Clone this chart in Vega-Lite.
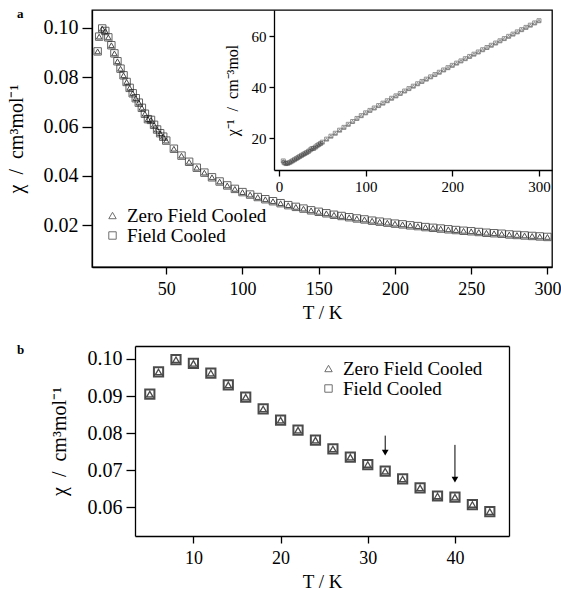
{
  "$schema": "https://vega.github.io/schema/vega-lite/v6.json",
  "padding": {"left": 6, "top": 8, "right": 3, "bottom": 3},
  "datasets": {
    "chi": [
      {"T": 5, "chi": 0.0905, "inv": 11.05},
      {"T": 6, "chi": 0.0965, "inv": 10.36},
      {"T": 8, "chi": 0.0998, "inv": 10.02},
      {"T": 10, "chi": 0.0988, "inv": 10.12},
      {"T": 12, "chi": 0.0962, "inv": 10.4},
      {"T": 14, "chi": 0.093, "inv": 10.75},
      {"T": 16, "chi": 0.0897, "inv": 11.15},
      {"T": 18, "chi": 0.0865, "inv": 11.56},
      {"T": 20, "chi": 0.0835, "inv": 11.98},
      {"T": 22, "chi": 0.0808, "inv": 12.38},
      {"T": 24, "chi": 0.0781, "inv": 12.8},
      {"T": 26, "chi": 0.0757, "inv": 13.21},
      {"T": 28, "chi": 0.0735, "inv": 13.61},
      {"T": 30, "chi": 0.0715, "inv": 13.99},
      {"T": 32, "chi": 0.0697, "inv": 14.35},
      {"T": 34, "chi": 0.0676, "inv": 14.79},
      {"T": 36, "chi": 0.0652, "inv": 15.34},
      {"T": 38, "chi": 0.063, "inv": 15.87},
      {"T": 40, "chi": 0.0627, "inv": 15.95},
      {"T": 42, "chi": 0.0607, "inv": 16.47},
      {"T": 44, "chi": 0.0588, "inv": 17.01},
      {"T": 46, "chi": 0.0573, "inv": 17.45},
      {"T": 48, "chi": 0.0559, "inv": 17.9},
      {"T": 50, "chi": 0.0543, "inv": 18.4},
      {"T": 55, "chi": 0.051, "inv": 19.6},
      {"T": 60, "chi": 0.0482, "inv": 20.75},
      {"T": 65, "chi": 0.0457, "inv": 21.9},
      {"T": 70, "chi": 0.0433, "inv": 23.1},
      {"T": 75, "chi": 0.0413, "inv": 24.2},
      {"T": 80, "chi": 0.0394, "inv": 25.4},
      {"T": 85, "chi": 0.0377, "inv": 26.5},
      {"T": 90, "chi": 0.0361, "inv": 27.7},
      {"T": 95, "chi": 0.0347, "inv": 28.8},
      {"T": 100, "chi": 0.0334, "inv": 29.9},
      {"T": 105, "chi": 0.0324, "inv": 30.85},
      {"T": 110, "chi": 0.0314, "inv": 31.8},
      {"T": 115, "chi": 0.0305, "inv": 32.75},
      {"T": 120, "chi": 0.0297, "inv": 33.7},
      {"T": 125, "chi": 0.0289, "inv": 34.65},
      {"T": 130, "chi": 0.0281, "inv": 35.6},
      {"T": 135, "chi": 0.0274, "inv": 36.55},
      {"T": 140, "chi": 0.0267, "inv": 37.5},
      {"T": 145, "chi": 0.026, "inv": 38.45},
      {"T": 150, "chi": 0.0254, "inv": 39.4},
      {"T": 155, "chi": 0.0248, "inv": 40.35},
      {"T": 160, "chi": 0.0242, "inv": 41.3},
      {"T": 165, "chi": 0.0237, "inv": 42.2},
      {"T": 170, "chi": 0.0232, "inv": 43.1},
      {"T": 175, "chi": 0.0227, "inv": 44.0},
      {"T": 180, "chi": 0.0223, "inv": 44.9},
      {"T": 185, "chi": 0.0218, "inv": 45.8},
      {"T": 190, "chi": 0.0214, "inv": 46.7},
      {"T": 195, "chi": 0.021, "inv": 47.6},
      {"T": 200, "chi": 0.0206, "inv": 48.5},
      {"T": 205, "chi": 0.0203, "inv": 49.38},
      {"T": 210, "chi": 0.0199, "inv": 50.25},
      {"T": 215, "chi": 0.0196, "inv": 51.13},
      {"T": 220, "chi": 0.0192, "inv": 52.0},
      {"T": 225, "chi": 0.0189, "inv": 52.88},
      {"T": 230, "chi": 0.0186, "inv": 53.75},
      {"T": 235, "chi": 0.0183, "inv": 54.63},
      {"T": 240, "chi": 0.018, "inv": 55.5},
      {"T": 245, "chi": 0.0177, "inv": 56.38},
      {"T": 250, "chi": 0.0175, "inv": 57.25},
      {"T": 255, "chi": 0.0172, "inv": 58.13},
      {"T": 260, "chi": 0.0169, "inv": 59.0},
      {"T": 265, "chi": 0.0167, "inv": 59.88},
      {"T": 270, "chi": 0.0165, "inv": 60.75},
      {"T": 275, "chi": 0.0162, "inv": 61.63},
      {"T": 280, "chi": 0.016, "inv": 62.5},
      {"T": 285, "chi": 0.0158, "inv": 63.38},
      {"T": 290, "chi": 0.0156, "inv": 64.25},
      {"T": 295, "chi": 0.0154, "inv": 65.13},
      {"T": 300, "chi": 0.0152, "inv": 66.0}
    ],
    "arrows": [
      {"T": 32, "top": 0.0793, "tip": 0.0747},
      {"T": 40, "top": 0.0768, "tip": 0.0674}
    ]
  },
  "title": {"text": "a", "anchor": "start", "frame": "group", "dx": -75, "dy": 11, "offset": 0, "fontSize": 13, "fontWeight": "bold", "font": "Liberation Serif", "color": "black"},
  "width": 460,
  "height": 257,
  "resolve": {
    "scale": {"x": "independent", "y": "independent", "shape": "independent"},
    "axis": {"x": "independent", "y": "independent"},
    "legend": {"shape": "independent"}
  },
  "layer": [
    {
      "data": {"name": "chi"},
      "encoding": {
        "x": {"field": "T", "type": "quantitative", "scale": {"domain": [1.3, 303], "nice": false, "zero": false},
              "axis": {"orient": "bottom", "values": [50, 100, 150, 200, 250, 300], "title": "T / K", "tickSize": 7, "labelPadding": 6, "titlePadding": 5}},
        "y": {"field": "chi", "type": "quantitative", "scale": {"domain": [0.003, 0.1073], "nice": false, "zero": false},
              "axis": {"orient": "left", "values": [0.02, 0.04, 0.06, 0.08, 0.1], "format": ".2f", "title": "χ\u2002/\u2002cm³mol⁻¹", "labelFontSize": 20, "titleFontSize": 20, "tickSize": 10, "labelPadding": 4, "titlePadding": 17}}
      },
      "layer": [
        {
          "mark": {"type": "point", "filled": false, "stroke": "#222222", "strokeWidth": 1, "size": 55},
          "encoding": {"shape": {"datum": "Field Cooled", "scale": {"domain": ["Zero Field Cooled", "Field Cooled"], "range": ["triangle-up", "square"]},
            "legend": {"orient": "none", "legendX": 11, "legendY": 196, "title": null}}}
        },
        {
          "mark": {"type": "point", "filled": false, "stroke": "#000000", "strokeWidth": 1, "size": 30},
          "encoding": {"shape": {"datum": "Zero Field Cooled"}}
        }
      ]
    },
    {
      "data": {"name": "chi"},
      "encoding": {
        "x": {"field": "T", "type": "quantitative", "scale": {"domain": [-5.7, 315], "range": [182, 460], "nice": false, "zero": false},
              "axis": {"orient": "bottom", "offset": -97, "values": [0, 100, 200, 300], "title": null, "labelFontSize": 15, "tickSize": 6, "labelPadding": 3}},
        "y": {"field": "inv", "type": "quantitative", "scale": {"domain": [7.5, 70.2], "range": [160, 0], "nice": false, "zero": false},
              "axis": {"orient": "left", "offset": -182, "values": [20, 40, 60], "title": "χ⁻¹\u2002/\u2002cm⁻³mol", "labelFontSize": 15, "titleFontSize": 16, "tickSize": 5, "labelPadding": 3, "titlePadding": 11}}
      },
      "layer": [
        {
          "mark": {"type": "point", "filled": false, "stroke": "#444444", "strokeWidth": 0.8, "size": 16},
          "encoding": {"shape": {"datum": "Field Cooled", "scale": {"domain": ["Zero Field Cooled", "Field Cooled"], "range": ["triangle-up", "square"]}, "legend": null}}
        },
        {
          "mark": {"type": "point", "filled": false, "stroke": "#444444", "strokeWidth": 0.8, "size": 9},
          "encoding": {"shape": {"datum": "Zero Field Cooled"}}
        }
      ]
    },
    {
      "data": {"name": "arrows"},
      "mark": {"type": "point", "opacity": 0},
      "encoding": {
        "x": {"field": "T", "type": "quantitative", "scale": {"domain": [3.3, 46.2], "range": [43, 417], "nice": false, "zero": false},
              "axis": {"orient": "top", "offset": -336, "labels": false, "ticks": false, "title": "b", "titleAngle": 0, "titleAlign": "center", "titleBaseline": "middle",
                       "titleX": -72, "titleY": 3, "titleFontSize": 13, "titleFontWeight": "bold"}},
        "y": {"field": "tip", "type": "quantitative", "scale": {"domain": [0.0522, 0.1035], "range": [526, 336], "nice": false, "zero": false},
              "axis": {"orient": "right", "offset": -43, "labels": false, "ticks": false, "title": null}}
      }
    },
    {
      "layer": [
        {
          "data": {"name": "chi"},
          "transform": [{"filter": "datum.T <= 44"}],
          "encoding": {
            "x": {"field": "T", "type": "quantitative", "scale": {"domain": [3.3, 46.2], "range": [43, 417], "nice": false, "zero": false},
                  "axis": {"orient": "bottom", "offset": 269, "values": [10, 20, 30, 40], "title": "T / K", "tickSize": 7, "labelPadding": 6, "titlePadding": 5}},
            "y": {"field": "chi", "type": "quantitative", "scale": {"domain": [0.0522, 0.1035], "range": [526, 336], "nice": false, "zero": false},
                  "axis": {"orient": "left", "offset": -43, "values": [0.06, 0.07, 0.08, 0.09, 0.1], "format": ".2f", "title": "χ\u2002/\u2002cm³mol⁻¹", "labelFontSize": 20, "titleFontSize": 20, "tickSize": 9, "labelPadding": 4, "titlePadding": 18}}
          },
          "layer": [
            {
              "mark": {"type": "point", "filled": false, "stroke": "#000000", "strokeWidth": 2, "size": 85},
              "encoding": {"shape": {"datum": "Field Cooled", "scale": {"domain": ["Zero Field Cooled", "Field Cooled"], "range": ["triangle-up", "square"]},
                "legend": {"orient": "none", "legendX": 227, "legendY": 349, "title": null}}}
            },
            {
              "mark": {"type": "point", "filled": false, "stroke": "#000000", "strokeWidth": 1.3, "size": 40},
              "encoding": {"shape": {"datum": "Zero Field Cooled"}}
            }
          ]
        },
        {
          "data": {"name": "arrows"},
          "mark": {"type": "rule", "stroke": "black", "strokeWidth": 1},
          "encoding": {
            "x": {"field": "T", "type": "quantitative", "scale": {"domain": [3.3, 46.2], "range": [43, 417], "nice": false, "zero": false}},
            "y": {"field": "top", "type": "quantitative", "scale": {"domain": [0.0522, 0.1035], "range": [526, 336], "nice": false, "zero": false}},
            "y2": {"field": "tip"}
          }
        },
        {
          "data": {"name": "arrows"},
          "mark": {"type": "point", "shape": "triangle-down", "filled": true, "color": "black", "size": 45, "opacity": 1},
          "encoding": {
            "x": {"field": "T", "type": "quantitative", "scale": {"domain": [3.3, 46.2], "range": [43, 417], "nice": false, "zero": false}},
            "y": {"field": "tip", "type": "quantitative", "scale": {"domain": [0.0522, 0.1035], "range": [526, 336], "nice": false, "zero": false}}
          }
        }
      ]
    }
  ],
  "config": {
    "font": "Liberation Serif",
    "view": {"stroke": "black", "strokeWidth": 1.3},
    "axis": {"grid": false, "domainColor": "black", "domainWidth": 1.3, "tickColor": "black", "tickWidth": 1.3, "tickSize": 8,
             "labelColor": "black", "titleColor": "black", "labelFont": "Liberation Serif", "titleFont": "Liberation Serif",
             "labelFontSize": 18, "titleFontSize": 19, "titleFontWeight": "normal"},
    "legend": {"labelFont": "Liberation Serif", "labelFontSize": 19, "labelColor": "black", "labelOffset": 5, "rowPadding": 0,
               "padding": 0, "symbolSize": 55, "symbolStrokeWidth": 1, "symbolStrokeColor": "#333333", "symbolFillColor": "transparent"}
  }
}
